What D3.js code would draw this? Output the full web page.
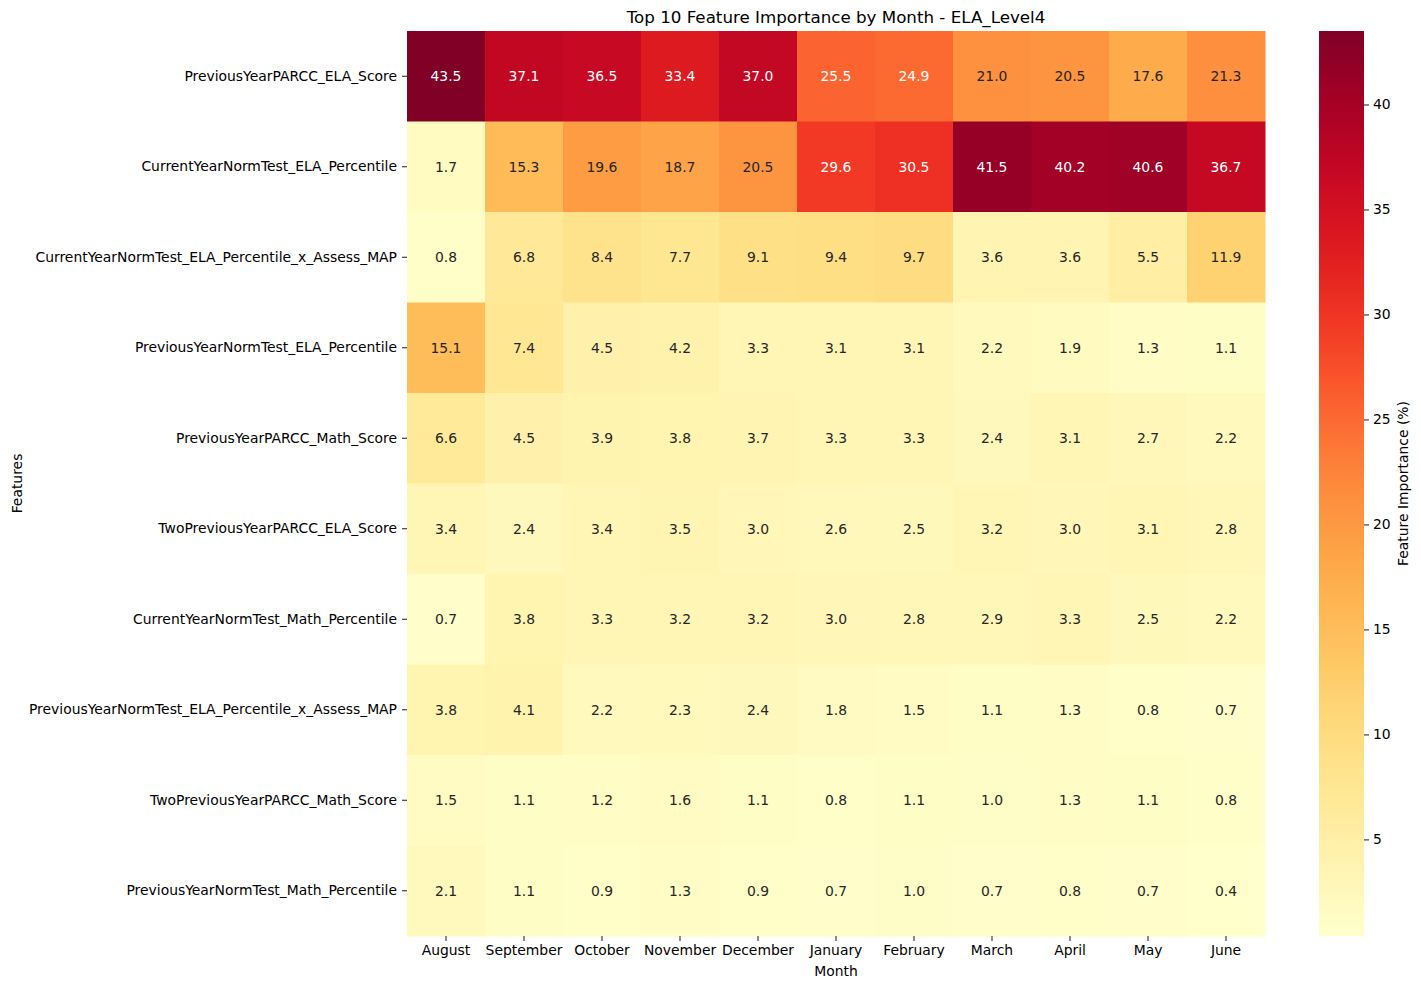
<html>
<head>
<script src="https://d3js.org/d3.v7.min.js"></script>
<style>
body { margin: 0; background: #fff; }
svg text { font-family: "DejaVu Sans", sans-serif; fill: #000; }
.cellval { font-size: 13.9px; text-anchor: middle; dominant-baseline: central; }
.tick text { font-size: 13.9px; }
</style>
</head>
<body>
<svg id="chart"></svg>
<script>
// Months along x, features along y
var months = ['August','September','October','November','December','January','February','March','April','May','June'];
var features = [
	'PreviousYearPARCC_ELA_Score',
	'CurrentYearNormTest_ELA_Percentile',
	'CurrentYearNormTest_ELA_Percentile_x_Assess_MAP',
	'PreviousYearNormTest_ELA_Percentile',
	'PreviousYearPARCC_Math_Score',
	'TwoPreviousYearPARCC_ELA_Score',
	'CurrentYearNormTest_Math_Percentile',
	'PreviousYearNormTest_ELA_Percentile_x_Assess_MAP',
	'TwoPreviousYearPARCC_Math_Score',
	'PreviousYearNormTest_Math_Percentile'
];
// one row per feature, values per month
var importance = [
	[43.5, 37.1, 36.5, 33.4, 37.0, 25.5, 24.9, 21.0, 20.5, 17.6, 21.3],
	[1.7, 15.3, 19.6, 18.7, 20.5, 29.6, 30.5, 41.5, 40.2, 40.6, 36.7],
	[0.8, 6.8, 8.4, 7.7, 9.1, 9.4, 9.7, 3.6, 3.6, 5.5, 11.9],
	[15.1, 7.4, 4.5, 4.2, 3.3, 3.1, 3.1, 2.2, 1.9, 1.3, 1.1],
	[6.6, 4.5, 3.9, 3.8, 3.7, 3.3, 3.3, 2.4, 3.1, 2.7, 2.2],
	[3.4, 2.4, 3.4, 3.5, 3.0, 2.6, 2.5, 3.2, 3.0, 3.1, 2.8],
	[0.7, 3.8, 3.3, 3.2, 3.2, 3.0, 2.8, 2.9, 3.3, 2.5, 2.2],
	[3.8, 4.1, 2.2, 2.3, 2.4, 1.8, 1.5, 1.1, 1.3, 0.8, 0.7],
	[1.5, 1.1, 1.2, 1.6, 1.1, 0.8, 1.1, 1.0, 1.3, 1.1, 0.8],
	[2.1, 1.1, 0.9, 1.3, 0.9, 0.7, 1.0, 0.7, 0.8, 0.7, 0.4]
];
var cbarTicks = [5, 10, 15, 20, 25, 30, 35, 40];

var W = 1421, H = 989;
var m = { left: 407, right: 1265, top: 31, bottom: 936 };
var cb = { x: 1319, w: 45 };

var svg = d3.select('#chart').attr('width', W).attr('height', H);

var cells = [];
importance.forEach(function(row, r) {
	row.forEach(function(v, c) {
		cells.push({ feature: features[r], month: months[c], value: v });
	});
});

var allVals = d3.merge(importance);
var vmin = d3.min(allVals), vmax = d3.max(allVals);

var x = d3.scaleBand().domain(months).range([m.left, m.right]);
var y = d3.scaleBand().domain(features).range([m.top, m.bottom]);
var color = d3.scaleSequential(d3.interpolateYlOrRd).domain([vmin, vmax]);

// relative luminance, same idea as seaborn's annotation colour switch
function lum(c) {
	var rgb = d3.rgb(c);
	var f = function(v) { v = v / 255; return v <= 0.03928 ? v / 12.92 : Math.pow((v + 0.055) / 1.055, 2.4); };
	return 0.2126 * f(rgb.r) + 0.7152 * f(rgb.g) + 0.0722 * f(rgb.b);
}

svg.selectAll('rect.cell')
	.data(cells)
	.enter().append('rect')
	.attr('class', 'cell')
	.attr('x', function(d) { return x(d.month); })
	.attr('y', function(d) { return y(d.feature); })
	.attr('width', x.bandwidth() + 0.5)
	.attr('height', y.bandwidth() + 0.5)
	.attr('fill', function(d) { return color(d.value); });

svg.selectAll('text.cellval')
	.data(cells)
	.enter().append('text')
	.attr('class', 'cellval')
	.attr('x', function(d) { return x(d.month) + x.bandwidth() / 2; })
	.attr('y', function(d) { return y(d.feature) + y.bandwidth() / 2; })
	.style('fill', function(d) { return lum(color(d.value)) > 0.408 ? '#262626' : '#ffffff'; })
	.text(function(d) { return d.value.toFixed(1); });

// axes
var xAxis = svg.append('g')
	.attr('transform', 'translate(0,' + m.bottom + ')')
	.call(d3.axisBottom(x).tickSize(5).tickPadding(4));
var yAxis = svg.append('g')
	.attr('transform', 'translate(' + m.left + ',0)')
	.call(d3.axisLeft(y).tickSize(5).tickPadding(5));
[xAxis, yAxis].forEach(function(a) {
	a.select('.domain').remove();
	a.selectAll('.tick line').attr('stroke', '#000').attr('stroke-width', 0.9);
});

svg.append('text')
	.attr('x', (m.left + m.right) / 2).attr('y', 976)
	.attr('text-anchor', 'middle').style('font-size', '13.9px')
	.text('Month');
svg.append('text')
	.attr('transform', 'translate(22,' + (m.top + m.bottom) / 2 + ') rotate(-90)')
	.attr('text-anchor', 'middle').style('font-size', '13.9px')
	.text('Features');
svg.append('text')
	.attr('x', (m.left + m.right) / 2).attr('y', 23)
	.attr('text-anchor', 'middle').style('font-size', '16.7px')
	.text('Top 10 Feature Importance by Month - ELA_Level4');

// colorbar
var defs = svg.append('defs');
var grad = defs.append('linearGradient').attr('id', 'cbgrad')
	.attr('x1', 0).attr('y1', 1).attr('x2', 0).attr('y2', 0);
d3.range(0, 1.0001, 0.02).forEach(function(t) {
	grad.append('stop').attr('offset', t).attr('stop-color', d3.interpolateYlOrRd(t));
});
svg.append('rect')
	.attr('x', cb.x).attr('y', m.top)
	.attr('width', cb.w).attr('height', m.bottom - m.top)
	.attr('fill', 'url(#cbgrad)');

var cy = d3.scaleLinear().domain([vmin, vmax]).range([m.bottom, m.top]);
var cAxis = svg.append('g')
	.attr('transform', 'translate(' + (cb.x + cb.w) + ',0)')
	.call(d3.axisRight(cy).tickValues(cbarTicks).tickSize(5).tickPadding(4).tickFormat(d3.format('d')));
cAxis.select('.domain').remove();
cAxis.selectAll('.tick line').attr('stroke', '#000').attr('stroke-width', 0.9);

svg.append('text')
	.attr('transform', 'translate(1408,' + (m.top + m.bottom) / 2 + ') rotate(-90)')
	.attr('text-anchor', 'middle').style('font-size', '13.9px')
	.text('Feature Importance (%)');
</script>
</body>
</html>
